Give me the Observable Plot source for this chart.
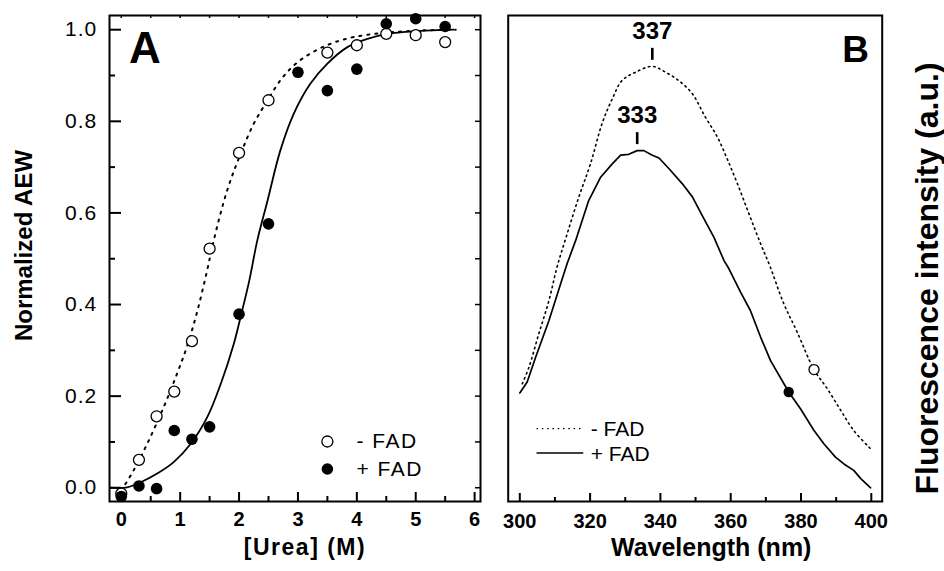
<!DOCTYPE html>
<html><head><meta charset="utf-8">
<script src="https://cdn.jsdelivr.net/npm/d3@7"></script>
<script src="https://cdn.jsdelivr.net/npm/@observablehq/plot@0.6"></script>
<style>
html,body{margin:0;padding:0;background:#fff;}
#wrap{position:relative;width:944px;height:571px;display:flex;overflow:hidden;}
#wrap svg{display:block;flex:none;}
</style></head><body><div id="wrap"></div>
<script>
// ---------- Panel A data: normalized AEW vs [Urea] ----------
const ureaNoFAD = [0, 0.3, 0.6, 0.9, 1.2, 1.5, 2.0, 2.5, 3.5, 4.0, 4.5, 5.0, 5.5];
const aewNoFAD  = [-0.013, 0.061, 0.156, 0.210, 0.320, 0.522, 0.731, 0.846, 0.950, 0.966, 0.991, 0.988, 0.973];
const ureaFAD   = [0, 0.3, 0.6, 0.9, 1.2, 1.5, 2.0, 2.5, 3.0, 3.5, 4.0, 4.5, 5.0, 5.5];
const aewFAD    = [-0.019, 0.004, -0.002, 0.125, 0.106, 0.133, 0.379, 0.576, 0.907, 0.867, 0.914, 1.013, 1.024, 1.007];
// fitted curves (traced)
const fitNoFADUrea = [0.07, 0.21, 0.44, 0.72, 0.95, 1.12, 1.29, 1.45, 1.57, 1.80, 2.03, 2.25, 2.48, 2.70, 2.93, 3.21, 3.55, 3.95, 4.46, 5.03, 5.68];
const fitNoFADAEW  = [0.008, 0.038, 0.096, 0.176, 0.250, 0.310, 0.385, 0.470, 0.540, 0.650, 0.730, 0.795, 0.845, 0.889, 0.922, 0.948, 0.969, 0.984, 0.993, 0.998, 1.0];
const fitFADUrea   = [-0.18, 0.10, 0.33, 0.61, 0.89, 1.18, 1.46, 1.69, 1.91, 2.03, 2.17, 2.31, 2.48, 2.70, 2.93, 3.21, 3.50, 3.84, 4.18, 4.52, 5.03, 5.65];
const fitFADAEW    = [0.0, 0.001, 0.012, 0.031, 0.056, 0.096, 0.154, 0.227, 0.314, 0.375, 0.450, 0.540, 0.625, 0.736, 0.817, 0.882, 0.926, 0.962, 0.980, 0.991, 0.997, 1.0];
const ureaTicks  = [0, 1, 2, 3, 4, 5, 6];
const ureaMinor  = [0.5, 1.5, 2.5, 3.5, 4.5, 5.5];
const ureaTop    = [0, 0.5, 1, 1.5, 2, 2.5, 3, 3.5, 4, 4.5, 5, 5.5, 6];
const aewTicks   = [0, 0.2, 0.4, 0.6, 0.8, 1.0];
const aewMinor   = [0.1, 0.3, 0.5, 0.7, 0.9];
const aewRight   = [0, 0.1, 0.2, 0.3, 0.4, 0.5, 0.6, 0.7, 0.8, 0.9, 1.0];
const seriesLabels = ["- FAD", "+ FAD"];

// ---------- Panel B data: fluorescence emission spectra ----------
const wlFAD  = [300, 302.1, 304.5, 308.3, 311.6, 313.5, 315.9, 319.6, 323, 326.3, 328.7, 331, 333.4, 335.3, 337.7, 339.6, 342.4, 346.2, 349.1, 352.4, 355.2, 358.1, 359.5, 362.8, 365.6, 368.5, 371.3, 376.5, 379.9, 383.7, 386.5, 389.8, 392.2, 395, 397, 399.8];
const fluFAD = [0.207, 0.231, 0.285, 0.365, 0.445, 0.49, 0.540, 0.627, 0.678, 0.707, 0.726, 0.728, 0.736, 0.736, 0.726, 0.72, 0.697, 0.664, 0.635, 0.587, 0.547, 0.496, 0.478, 0.427, 0.387, 0.329, 0.278, 0.209, 0.172, 0.125, 0.096, 0.067, 0.052, 0.038, 0.020, 0.0];
const wlNoFAD  = [300.7, 302.6, 305.4, 308.3, 310.6, 313.5, 316.8, 320.1, 323.4, 326.3, 329.1, 332.9, 337.7, 341.5, 345.2, 349.1, 352.8, 356.2, 359, 361.9, 365.2, 368.5, 371.1, 375.1, 378.9, 383.7, 387.5, 391.3, 395, 399.8];
const fluNoFAD = [0.227, 0.263, 0.336, 0.409, 0.482, 0.555, 0.635, 0.707, 0.795, 0.849, 0.889, 0.907, 0.920, 0.907, 0.889, 0.860, 0.809, 0.766, 0.718, 0.664, 0.598, 0.533, 0.485, 0.402, 0.34, 0.258, 0.216, 0.169, 0.125, 0.085];
const markerNoFAD = {wl: 383.7, v: 0.258};
const markerFAD   = {wl: 376.5, v: 0.209};
const peakLabels = ["337", "333"];
const peakWl     = [337.7, 333.4];
const peakValue  = [0.920, 0.736];
const wlTicks = [300, 320, 340, 360, 380, 400];
const wlMinor = [310, 330, 350, 370, 390];

// ---------- layout ----------
const font = "'Liberation Sans', Arial, Helvetica, sans-serif";
const H = 571, mTop = 15, mBottom = 70;
const yDom = [-0.03, 1.031];
const xDomA = [-0.2, 6.1];
const xDomB = [296.7, 403.1];
const pyU = (H - mTop - mBottom) / (yDom[1] - yDom[0]);   // px per y unit
const pxA = (494 - 109 - 14) / (xDomA[1] - xDomA[0]);      // px per urea unit
const zip = (xs, ys) => xs.map((x, i) => ({x, y: ys[i]}));

// inward tick helpers
const ticksBottom = (vals, len, sw) => Plot.ruleX(vals, {x: d => d, y1: yDom[0], y2: yDom[0] + len / pyU, stroke: "black", strokeWidth: sw});
const ticksTop = (vals, len, sw) => Plot.ruleX(vals, {x: d => d, y1: yDom[1] - len / pyU, y2: yDom[1], stroke: "black", strokeWidth: sw});
const ticksLeftA = (vals, len, sw) => Plot.ruleY(vals, {y: d => d, x1: xDomA[0], x2: xDomA[0] + len / pxA, stroke: "black", strokeWidth: sw});
const ticksRightA = (vals, len, sw) => Plot.ruleY(vals, {y: d => d, x1: xDomA[1] - len / pxA, x2: xDomA[1], stroke: "black", strokeWidth: sw});

const noFADPts = zip(ureaNoFAD, aewNoFAD);
const FADPts = zip(ureaFAD, aewFAD);
const fitNoFAD = zip(fitNoFADUrea, fitNoFADAEW);
const fitFAD = zip(fitFADUrea, fitFADAEW);

const plotA = Plot.plot({
  width: 494, height: H,
  marginLeft: 109, marginRight: 14, marginTop: mTop, marginBottom: mBottom,
  x: {domain: xDomA, label: null},
  y: {domain: yDom, label: null},
  style: {fontFamily: font, color: "black", background: "white", overflow: "visible"},
  marks: [
    Plot.line(fitNoFAD, {x: "x", y: "y", stroke: "black", strokeWidth: 2, strokeDasharray: "2,6", curve: "catmull-rom"}),
    Plot.line(fitFAD, {x: "x", y: "y", stroke: "black", strokeWidth: 1.8, curve: "catmull-rom"}),
    Plot.dot(noFADPts, {x: "x", y: "y", r: 5.5, stroke: "black", strokeWidth: 1.3, fill: "white"}),
    Plot.dot(FADPts, {x: "x", y: "y", r: 5.8, fill: "black", stroke: "none"}),
    Plot.axisX({ticks: ureaTicks, tickSize: 0, tickPadding: 10.7, tickFormat: d3.format("d"), fontSize: 20, fontWeight: "bold", label: null}),
    Plot.axisY({ticks: aewTicks, tickSize: 0, tickPadding: 12.3, tickFormat: d3.format(".1f"), fontSize: 21, label: null}),
    ticksBottom(ureaTicks, 9, 2),
    ticksBottom(ureaMinor, 5, 2),
    ticksTop(ureaTop, 3, 1.5),
    ticksLeftA(aewTicks, 12, 2),
    ticksLeftA(aewMinor, 6, 2),
    ticksRightA(aewRight, 5, 1.5),
    Plot.frame({stroke: "black", strokeWidth: 2}),
    Plot.text(["Normalized AEW"], {frameAnchor: "left", dx: -85.5, dy: -13, rotate: -90, textAnchor: "middle", lineAnchor: "middle", fontSize: 24, fontWeight: "bold"}),
    Plot.text(["[Urea] (M)"], {frameAnchor: "bottom", dx: 10, dy: 46, textAnchor: "middle", lineAnchor: "middle", fontSize: 23, fontWeight: "bold"}),
    Plot.text(["A"], {frameAnchor: "top-left", dx: 35.5, dy: 33.5, textAnchor: "middle", lineAnchor: "middle", fontSize: 44, fontWeight: "bold"}),
    // legend
    Plot.dot([seriesLabels[0]], {x: 3.5, y: 0.101, r: 5.5, stroke: "black", strokeWidth: 1.3, fill: "white"}),
    Plot.dot([seriesLabels[1]], {x: 3.5, y: 0.041, r: 5.8, fill: "black"}),
    Plot.text([seriesLabels[0]], {x: 3.5, y: 0.101, text: d => d, dx: 29, textAnchor: "start", lineAnchor: "middle", fontSize: 21}),
    Plot.text([seriesLabels[1]], {x: 3.5, y: 0.041, text: d => d, dx: 29, textAnchor: "start", lineAnchor: "middle", fontSize: 21})
  ]
});

const specFAD = zip(wlFAD, fluFAD);
const specNoFAD = zip(wlNoFAD, fluNoFAD);
const peaks = peakLabels.map((t, i) => ({t, wl: peakWl[i], v: peakValue[i]}));

const plotB = Plot.plot({
  width: 450, height: H,
  marginLeft: 13.7, marginRight: 62.3, marginTop: mTop, marginBottom: mBottom,
  x: {domain: xDomB, label: null},
  y: {domain: yDom, label: null, axis: null},
  style: {fontFamily: font, color: "black", background: "white", overflow: "visible"},
  marks: [
    Plot.line(specNoFAD, {x: "x", y: "y", stroke: "black", strokeWidth: 1.6, strokeDasharray: "1.5,3.8", curve: "catmull-rom"}),
    Plot.line(specFAD, {x: "x", y: "y", stroke: "black", strokeWidth: 1.7}),
    Plot.dot([markerNoFAD], {x: "wl", y: "v", r: 5, stroke: "black", strokeWidth: 1.3, fill: "white"}),
    Plot.dot([markerFAD], {x: "wl", y: "v", r: 5.2, fill: "black"}),
    Plot.ruleX(peaks, {x: "wl", y1: d => d.v + 6 / pyU, y2: d => d.v + 18 / pyU, stroke: "black", strokeWidth: 2.6}),
    Plot.text(peaks, {x: "wl", y: "v", text: "t", dy: -35, textAnchor: "middle", lineAnchor: "middle", fontSize: 24, fontWeight: "bold"}),
    Plot.axisX({ticks: wlTicks, tickSize: 0, tickPadding: 12.3, tickFormat: d3.format("d"), fontSize: 20, fontWeight: "bold", label: null}),
    ticksBottom(wlTicks, 8, 2),
    ticksBottom(wlMinor, 4, 2),
    Plot.frame({stroke: "black", strokeWidth: 2}),
    Plot.text(["B"], {frameAnchor: "top-right", dx: -26.7, dy: 35, textAnchor: "middle", lineAnchor: "middle", fontSize: 37, fontWeight: "bold"}),
    Plot.text(["Wavelength (nm)"], {frameAnchor: "bottom", dx: 16, dy: 46, textAnchor: "middle", lineAnchor: "middle", fontSize: 25, fontWeight: "bold"}),
    Plot.text(["Fluorescence intensity (a.u.)"], {frameAnchor: "right", dx: 45.6, dy: 20, rotate: -90, textAnchor: "middle", lineAnchor: "middle", fontSize: 32, fontWeight: "bold"}),
    // legend
    Plot.ruleY([seriesLabels[0]], {y: 0.129, x1: 304.9, x2: 318.2, stroke: "black", strokeWidth: 1.4, strokeDasharray: "1.5,3.8"}),
    Plot.ruleY([seriesLabels[1]], {y: 0.076, x1: 304.9, x2: 318.2, stroke: "black", strokeWidth: 1.6}),
    Plot.text([seriesLabels[0]], {x: 318.2, y: 0.129, text: d => d, dx: 7, dy: 1, textAnchor: "start", lineAnchor: "middle", fontSize: 21}),
    Plot.text([seriesLabels[1]], {x: 318.2, y: 0.076, text: d => d, dx: 7, dy: 1, textAnchor: "start", lineAnchor: "middle", fontSize: 21})
  ]
});

const wrap = document.getElementById("wrap");
wrap.appendChild(plotA);
wrap.appendChild(plotB);
d3.select(plotA).selectAll("text").filter(function () { return this.textContent === "[Urea] (M)"; }).style("letter-spacing", "1.5px");
d3.select(plotA).selectAll("text").filter(function () { return this.textContent === "- FAD" || this.textContent === "+ FAD"; }).style("letter-spacing", "1.5px");
d3.select(plotA).selectAll("g[aria-label='y-axis tick label'] text").style("letter-spacing", "1px");
</script></body></html>
